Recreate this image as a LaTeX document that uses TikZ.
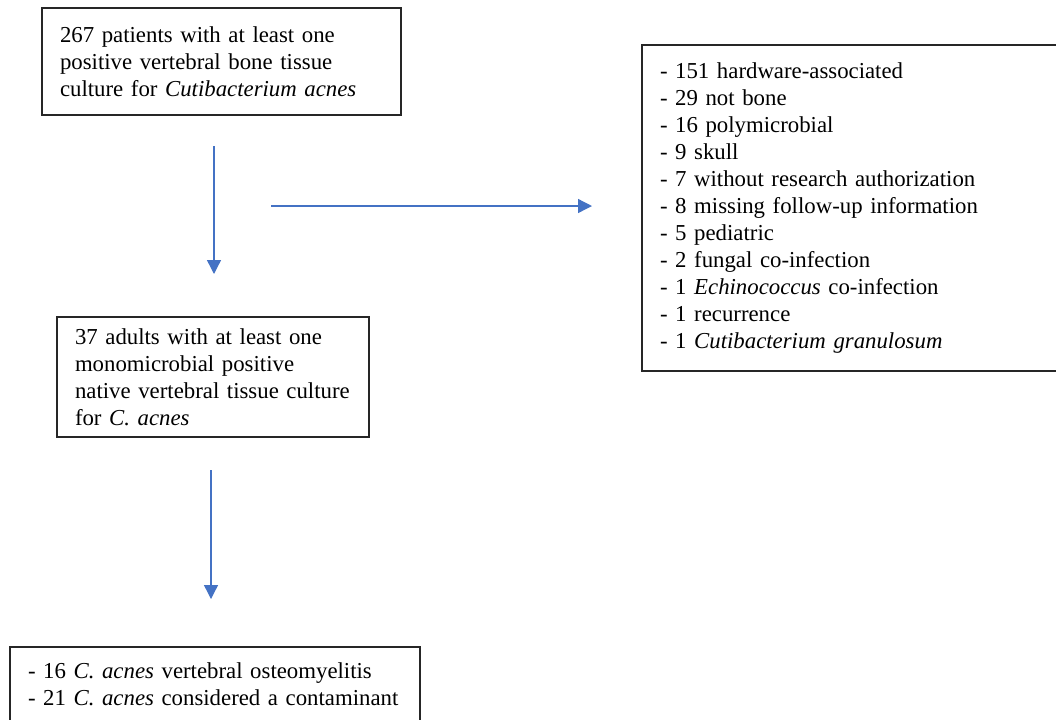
\documentclass[tikz,border=0pt]{standalone}
\usepackage{fontspec}
\setmainfont{Liberation Serif}
\usetikzlibrary{arrows.meta}
\definecolor{arrowblue}{HTML}{4472C4}
\newcommand{\oneln}[1]{\mbox{#1}}
\tikzset{
  box/.style={draw=black!85, line width=0.9pt, align=left, inner xsep=13.5pt, inner ysep=0pt,
    font=\fontsize{17.1}{20.25}\selectfont},
  flow/.style={draw=arrowblue, line width=1pt, -{Triangle[length=10.5pt,width=10.5pt]}}
}
\begin{document}
\begin{tikzpicture}[x=0.75pt,y=-0.75pt]
\useasboundingbox (0,0) rectangle (1056,719);
\clip (0,0) rectangle (1056,719);
\node[box, text width=242.25pt, minimum height=80.25pt] (b1) at (221.5,61.5)
  {\oneln{267 patients with at least one}\\\oneln{positive vertebral bone tissue}\\\oneln{culture for \textit{Cutibacterium acnes}}};
\node[box, text width=297.75pt, minimum height=244.5pt] (b2) at (858.5,208)
  {- 151 hardware-associated\\- 29 not bone\\- 16 polymicrobial\\- 9 skull\\\oneln{- 7 without research authorization}\\\oneln{- 8 missing follow-up information}\\- 5 pediatric\\- 2 fungal co-infection\\- 1 \textit{Echinococcus} co-infection\\- 1 recurrence\\- 1 \textit{Cutibacterium granulosum}};
\node[box, text width=207pt, minimum height=90pt] (b3) at (213,377)
  {\oneln{37 adults with at least one}\\\oneln{monomicrobial positive}\\\oneln{native vertebral tissue culture}\\\oneln{for \textit{C. acnes}}};
\node[box, text width=280.5pt, minimum height=56.25pt] (b4) at (215,684.5)
  {\oneln{- 16 \textit{C. acnes} vertebral osteomyelitis}\\\oneln{- 21 \textit{C. acnes} considered a contaminant}};
\coordinate (a1s) at (214,146);
\coordinate (a1e) at (214,274);
\coordinate (a2s) at (271,206);
\coordinate (a2e) at (592,206);
\coordinate (a3s) at (211,470);
\coordinate (a3e) at (211,599);
\draw[flow] (a1s) -- (a1e);
\draw[flow] (a2s) -- (a2e);
\draw[flow] (a3s) -- (a3e);
\end{tikzpicture}
\end{document}
